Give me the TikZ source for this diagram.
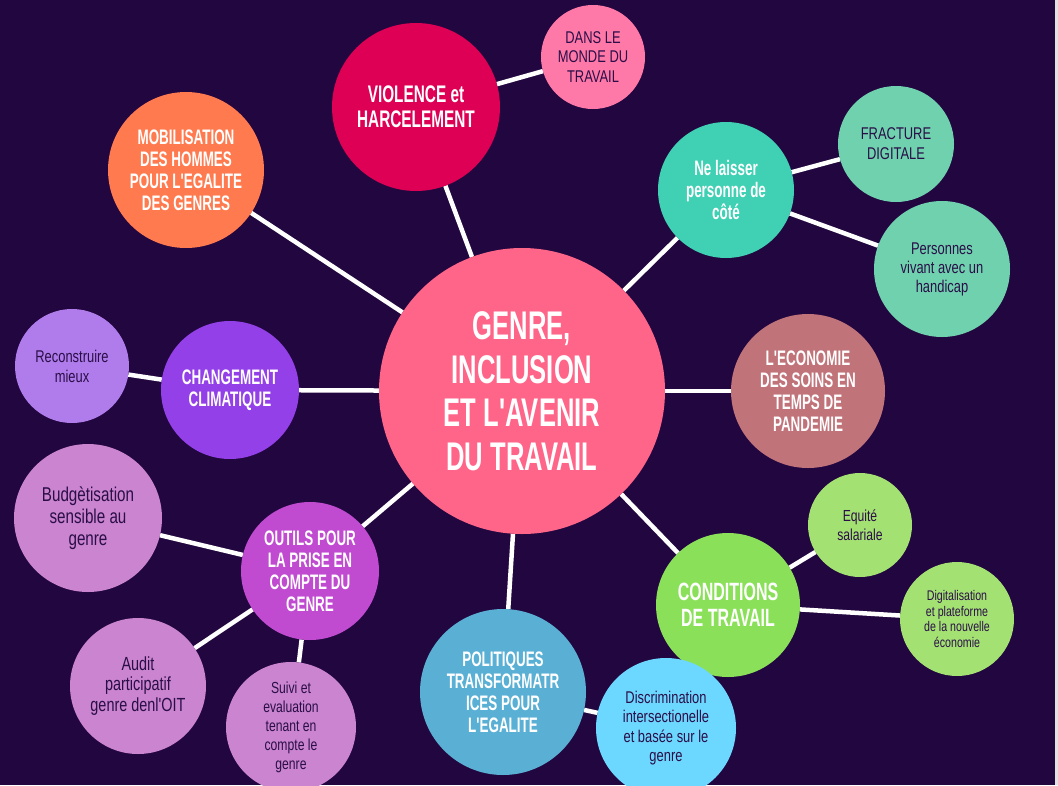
\documentclass[tikz,border=0pt]{standalone}
\usepackage{fontspec}
\newfontfamily\fb[FakeStretch=0.64,Ligatures=TeXOff]{Liberation Sans}
\newfontfamily\fr[FakeStretch=0.76,Ligatures=TeXOff]{Liberation Sans}
\definecolor{bgc}{HTML}{22063F}
\definecolor{stripc}{HTML}{E2E2E2}
\definecolor{dk}{HTML}{2A0E48}
\definecolor{cmain}{HTML}{FE6589}
\definecolor{cviol}{HTML}{DD0055}
\definecolor{cdans}{HTML}{FF79A8}
\definecolor{cmob}{HTML}{FF7B4F}
\definecolor{crec}{HTML}{B07CEB}
\definecolor{cchg}{HTML}{9340E8}
\definecolor{cne}{HTML}{40D0B4}
\definecolor{cfr}{HTML}{70D1AE}
\definecolor{ceco}{HTML}{C1737A}
\definecolor{cbud}{HTML}{CB84CF}
\definecolor{cout}{HTML}{C04BD0}
\definecolor{cpol}{HTML}{5AB0D4}
\definecolor{cdis}{HTML}{6DD8FF}
\definecolor{ccon}{HTML}{8BE05A}
\definecolor{cequ}{HTML}{A4E173}
\pgfdeclarelayer{back}
\pgfsetlayers{back,main}
\begin{document}
\begin{tikzpicture}[x=1pt,y=-1pt,
  bub/.style={circle,inner sep=0pt,outer sep=0pt,align=center,minimum size=#1},
  wt/.style 2 args={text=white,font=\fb\bfseries\fontsize{#1}{#2}\selectfont},
  dt/.style 2 args={text=dk,font=\fr\fontsize{#1}{#2}\selectfont},
  link/.style={draw=white,line width=4.5pt}]
\useasboundingbox (0,0) rectangle (1058,785);
% nodes
\node[bub=286pt,fill=cmain,wt={40}{43.5}] (main) at (522,391) {GENRE,\\INCLUSION\\ET L'AVENIR\\DU TRAVAIL};
\node[bub=168pt,fill=cviol,wt={24}{25}] (viol) at (416,107) {VIOLENCE et\\HARCELEMENT};
\node[bub=104pt,fill=cdans,dt={17}{19.5}] (dans) at (593,57) {DANS LE\\MONDE DU\\TRAVAIL};
\node[bub=156pt,fill=cmob,wt={21}{22}] (mob) at (186,170) {MOBILISATION\\DES HOMMES\\POUR L'EGALITE\\DES GENRES};
\node[bub=114pt,fill=crec,dt={17}{20}] (rec) at (72,366) {Reconstruire\\mieux};
\node[bub=138pt,fill=cchg,wt={21}{22}] (chg) at (230,390) {CHANGEMENT\\CLIMATIQUE};
\node[bub=136pt,fill=cne,wt={21}{22}] (ne) at (726,190) {Ne laisser\\personne de\\côté};
\node[bub=116pt,fill=cfr,dt={17}{20}] (fr) at (896,144) {FRACTURE\\DIGITALE};
\node[bub=136pt,fill=cfr,dt={17}{19}] (pers) at (942,269) {Personnes\\vivant avec un\\handicap};
\node[bub=154pt,fill=ceco,wt={21}{22}] (eco) at (808,391) {L'ECONOMIE\\DES SOINS EN\\TEMPS DE\\PANDEMIE};
\node[bub=148pt,fill=cbud,dt={20}{22}] (bud) at (88,518) {Budgètisation\\sensible au\\genre};
\node[bub=138pt,fill=cout,wt={21}{22}] (out) at (310,571) {OUTILS POUR\\LA PRISE EN\\COMPTE DU\\GENRE};
\node[bub=136pt,fill=cbud,dt={19}{20.5}] (aud) at (138,686) {Audit\\participatif\\genre denl'OIT};
\node[bub=130pt,fill=cbud,dt={16}{19}] (sui) at (291,727) {Suivi et\\evaluation\\tenant en\\compte le\\genre};
\node[bub=166pt,fill=cpol,wt={21}{22}] (pol) at (503,692) {POLITIQUES\\TRANSFORMATR\\ICES POUR\\L'EGALITE};
\node[bub=144pt,fill=ccon,wt={25}{26}] (con) at (728,605) {CONDITIONS\\DE TRAVAIL};
\node[bub=140pt,fill=cdis,dt={17}{19.3}] (dis) at (666,728) {Discrimination\\intersectionelle\\et basée sur le\\genre};
\node[bub=104pt,fill=cequ,dt={16}{18.5}] (equ) at (860,525) {Equité\\salariale};
\node[bub=114pt,fill=cequ,dt={14}{15.7}] (dig) at (957,619) {Digitalisation\\et plateforme\\de la nouvelle\\économie};
% background and connectors
\begin{pgfonlayer}{back}
\fill[bgc] (0,0) rectangle (1055,785);
\fill[stripc] (1055,0) rectangle (1058,785);
\draw[link] (main) -- (viol);
\draw[link] (viol) -- (dans);
\draw[link] (main) -- (mob);
\draw[link] (main) -- (chg);
\draw[link] (chg) -- (rec);
\draw[link] (main) -- (ne);
\draw[link] (ne) -- (fr);
\draw[link] (ne) -- (pers);
\draw[link] (main) -- (eco);
\draw[link] (main) -- (out);
\draw[link] (out) -- (bud);
\draw[link] (out) -- (aud);
\draw[link] (out) -- (sui);
\draw[link] (main) -- (pol);
\draw[link] (pol) -- (dis);
\draw[link] (main) -- (con);
\draw[link] (con) -- (equ);
\draw[link] (con) -- (dig);
\end{pgfonlayer}
\end{tikzpicture}
\end{document}
